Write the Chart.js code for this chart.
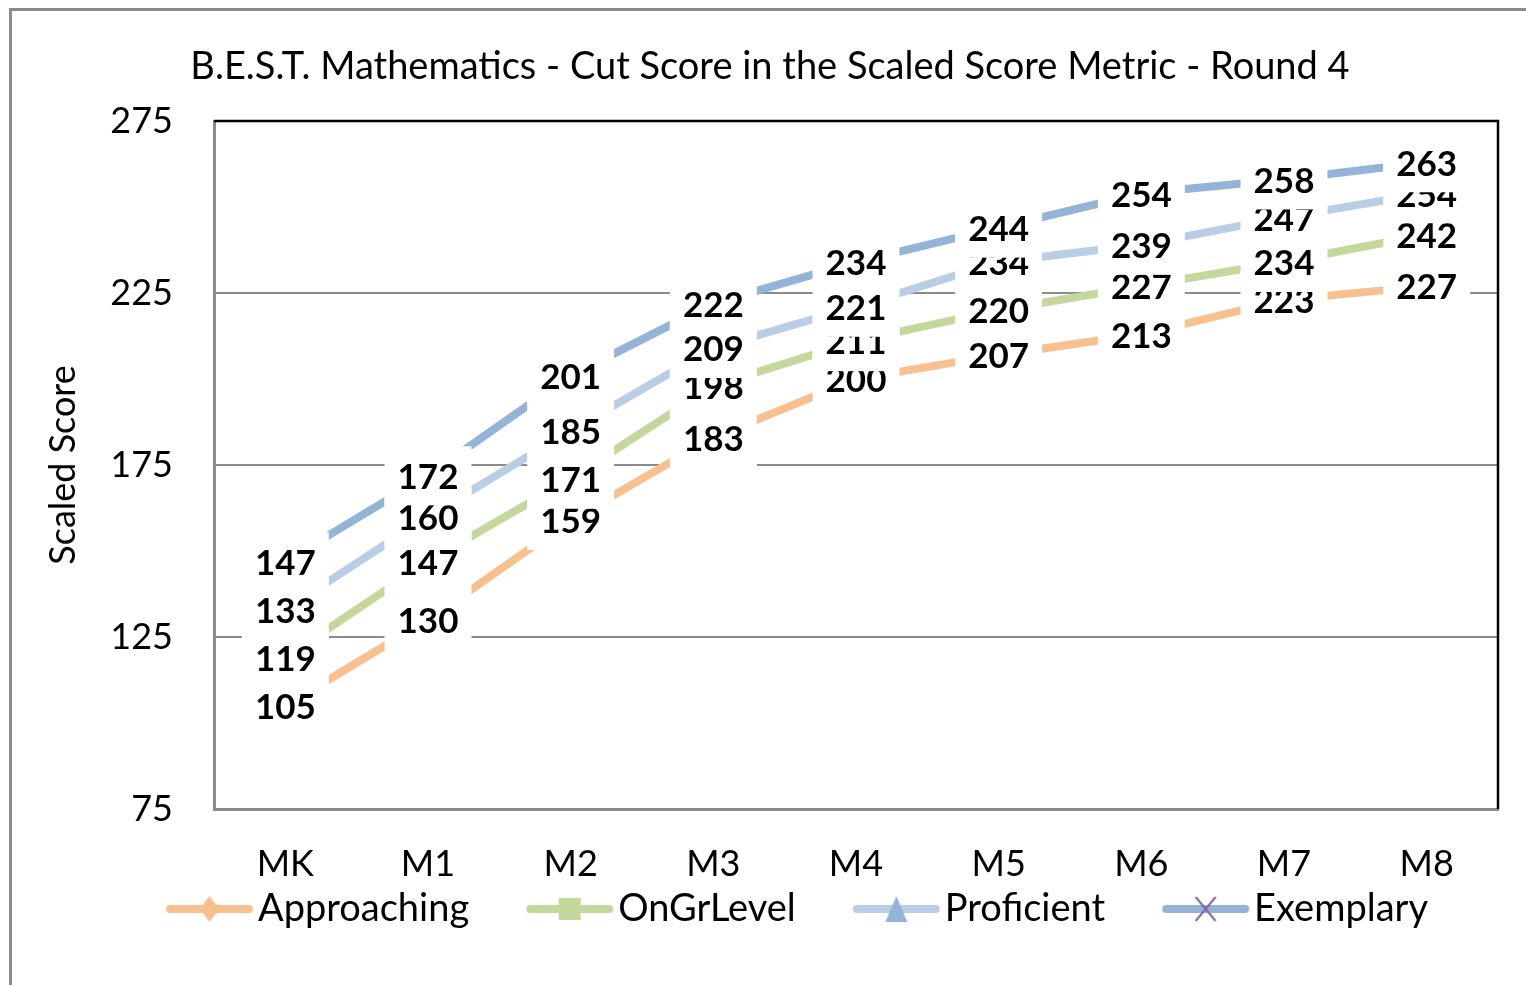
<!DOCTYPE html>
<html>
<head>
<meta charset="utf-8">
<script src="https://cdn.jsdelivr.net/npm/chart.js@4.4.1/dist/chart.umd.min.js"></script>
<style>
  html, body { margin: 0; padding: 0; background: #fff; }
  #wrap { width: 1526px; height: 985px; position: relative; }
</style>
</head>
<body>
<div id="wrap"><canvas id="c"></canvas></div>
<script>
// ---- data ----
const categories = ['MK', 'M1', 'M2', 'M3', 'M4', 'M5', 'M6', 'M7', 'M8'];
const approaching = [105, 130, 159, 183, 200, 207, 213, 223, 227];
const onGrLevel   = [119, 147, 171, 198, 211, 220, 227, 234, 242];
const proficient  = [133, 160, 185, 209, 221, 234, 239, 247, 254];
const exemplary   = [147, 172, 201, 222, 234, 244, 254, 258, 263];
const seriesNames = ['Approaching', 'OnGrLevel', 'Proficient', 'Exemplary'];
const yTicks = [75, 125, 175, 225, 275];
const titleText = 'B.E.S.T. Mathematics - Cut Score in the Scaled Score Metric - Round 4';
const yTitle = 'Scaled Score';

// ---- styles ----
const lineColors = ['#F9C08F', '#C4D89E', '#B9CDE5', '#95B3D7'];
const markerColors = ['#F9C08F', '#C4D89E', '#95B3D7', '#8064A2'];
const markerShapes = ['diamond', 'square', 'triangle', 'cross'];
Chart.defaults.font.family = 'Lato, "Open Sans", sans-serif';
Chart.defaults.color = '#000';

// legend icon: line + marker, drawn inside a wide transparent canvas
function makeIcon(i) {
  const c = document.createElement('canvas');
  c.width = 156; c.height = 30;
  const g = c.getContext('2d');
  const x0 = 68.5, x1 = 155.5, cx = (x0 + x1) / 2, cy = 15;
  g.strokeStyle = lineColors[i];
  g.lineWidth = 8;
  g.lineCap = 'round';
  g.beginPath(); g.moveTo(x0 + 4, cy); g.lineTo(x1 - 4, cy); g.stroke();
  g.fillStyle = markerColors[i];
  g.strokeStyle = markerColors[i];
  const s = markerShapes[i];
  if (s === 'diamond') {
    g.beginPath(); g.moveTo(cx, cy - 13); g.lineTo(cx + 10, cy); g.lineTo(cx, cy + 13); g.lineTo(cx - 10, cy); g.closePath(); g.fill();
  } else if (s === 'square') {
    g.fillRect(cx - 11, cy - 11, 22, 22);
  } else if (s === 'triangle') {
    g.beginPath(); g.moveTo(cx, cy - 13); g.lineTo(cx + 11, cy + 13); g.lineTo(cx - 11, cy + 13); g.closePath(); g.fill();
  } else {
    g.lineWidth = 2; g.lineCap = 'butt';
    g.beginPath(); g.moveTo(cx - 10, cy - 12); g.lineTo(cx + 10, cy + 12); g.moveTo(cx + 10, cy - 12); g.lineTo(cx - 10, cy + 12); g.stroke();
  }
  return c;
}
const icons = [0, 1, 2, 3].map(makeIcon);

const seriesData = [approaching, onGrLevel, proficient, exemplary];

const labelPlugin = {
  id: 'valueLabels',
  beforeDraw(chart) {
    const ctx = chart.ctx;
    ctx.save();
    ctx.strokeStyle = '#8a8a8a';
    ctx.lineWidth = 3;
    ctx.strokeRect(10.5, 9.5, 3000, 3000);
    ctx.restore();
  },
  afterDatasetsDraw(chart) {
    const ctx = chart.ctx;
    ctx.save();
    ctx.font = 'bold 35px Lato, "Open Sans", sans-serif';
    ctx.textAlign = 'center';
    ctx.textBaseline = 'middle';
    chart.data.datasets.forEach((ds, di) => {
      const meta = chart.getDatasetMeta(di);
      meta.data.forEach((pt, i) => {
        const txt = String(ds.data[i]);
        const w = ctx.measureText(txt).width + 26;
        ctx.fillStyle = '#fff';
        ctx.fillRect(pt.x - w / 2, pt.y - 29, w, 59);
        ctx.fillStyle = '#000';
        ctx.fillText(txt, pt.x, pt.y + 2);
      });
    });
    ctx.restore();
  },
  afterDraw(chart) {
    const a = chart.chartArea;
    const ctx = chart.ctx;
    ctx.save();
    ctx.strokeStyle = '#000';
    ctx.lineWidth = 2.5;
    ctx.beginPath();
    ctx.moveTo(a.left, a.top);
    ctx.lineTo(a.right, a.top);
    ctx.lineTo(a.right, a.bottom);
    ctx.stroke();
    ctx.restore();
  }
};

new Chart(document.getElementById('c'), {
  type: 'line',
  data: {
    labels: categories,
    datasets: seriesData.map((d, i) => ({
      label: seriesNames[i],
      data: d,
      borderColor: lineColors[i],
      backgroundColor: lineColors[i],
      borderWidth: 8,
      pointRadius: 0,
      pointHoverRadius: 0,
      tension: 0,
      borderCapStyle: 'butt',
      fill: false
    }))
  },
  options: {
    responsive: true,
    maintainAspectRatio: false,
    animation: false,
    events: [],
    layout: { padding: { left: 42, right: 28, top: 10, bottom: 47 } },
    plugins: {
      title: {
        display: true,
        text: titleText,
        color: '#000',
        font: { size: 38, weight: 'normal' },
        padding: { top: 34.2, bottom: 31.2 }
      },
      legend: {
        display: true,
        position: 'bottom',
        labels: {
          usePointStyle: true,
          pointStyleWidth: 127,
          padding: 3,
          color: '#000',
          font: { size: 38 },
          generateLabels(chart) {
            const items = Chart.defaults.plugins.legend.labels.generateLabels(chart);
            items.forEach((it, i) => { it.pointStyle = icons[i]; it.fontColor = '#000'; });
            return items;
          }
        }
      },
      tooltip: { enabled: false }
    },
    scales: {
      x: {
        offset: true,
        grid: { display: false, drawTicks: false },
        border: { display: true, color: '#8a8a8a', width: 3 },
        ticks: { font: { size: 36 }, color: '#000', padding: 33.4, autoSkip: false, maxRotation: 0 },
        afterFit(s) { s.height = 78; }
      },
      y: {
        min: 75,
        max: 275,
        afterBuildTicks(s) { s.ticks = yTicks.map(v => ({ value: v })); },
        grid: { color: '#8c8c8c', lineWidth: 2, drawTicks: false },
        border: { display: true, color: '#8a8a8a', width: 3 },
        ticks: { font: { size: 36 }, color: '#000', padding: 41 },
        title: {
          display: true,
          text: yTitle,
          color: '#000',
          font: { size: 36 },
          padding: { top: 0, bottom: 0 }
        },
        afterFit(s) { s.width = 172; }
      }
    }
  },
  plugins: [labelPlugin]
});
</script>
</body>
</html>
